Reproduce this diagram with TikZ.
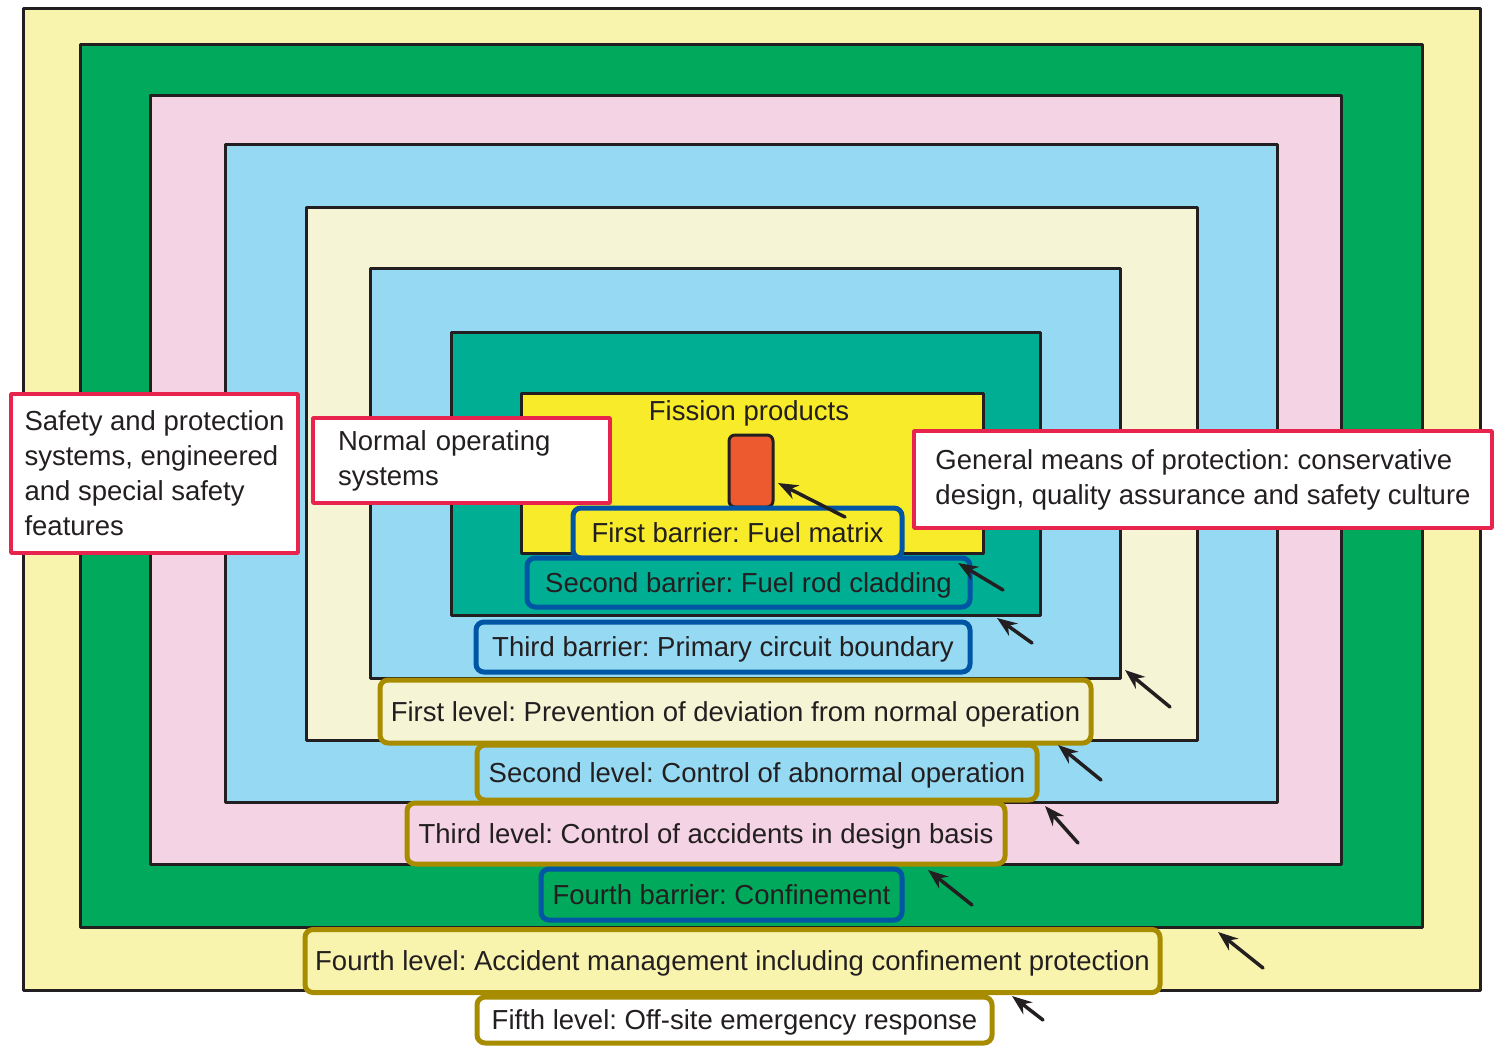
\documentclass[tikz,border=0pt]{standalone}
\usepackage{fontspec}
\setmainfont{Liberation Sans}
\usetikzlibrary{arrows.meta}
\definecolor{cInk}{HTML}{231F20}
\definecolor{cPale}{HTML}{F8F3AD}
\definecolor{cGreen}{HTML}{00A95C}
\definecolor{cPink}{HTML}{F3D3E4}
\definecolor{cSky}{HTML}{95D9F2}
\definecolor{cCream}{HTML}{F5F5D6}
\definecolor{cTeal}{HTML}{00AE93}
\definecolor{cYellow}{HTML}{F8EB2A}
\definecolor{cOrange}{HTML}{EE5A30}
\definecolor{cRed}{HTML}{E8234E}
\definecolor{cBlue}{HTML}{0055A4}
\definecolor{cGold}{HTML}{A88C00}
\frenchspacing
\begin{document}
\begin{tikzpicture}[x=1pt, y=-1pt, line join=round, line cap=round, >={Stealth[length=20pt, width=15pt]},
	font=\fontsize{27.5pt}{35pt}\selectfont, text=cInk,
	barrier/.style={draw=cBlue, line width=5pt, rounded corners=8pt, inner sep=0pt, text height=20pt, text depth=1pt},
	level/.style={draw=cGold, line width=5pt, rounded corners=8pt, inner sep=0pt, text height=20pt, text depth=1pt},
	note/.style={draw=cRed, line width=3.5pt, fill=white, align=left, inner xsep=2pt}]
	\useasboundingbox (0,0) rectangle (1501,1045);
	% vùng lồng nhau, từ ngoài vào trong
	\foreach \xa/\ya/\xb/\yb/\mau in {23/8/1480/990/cPale, 80/44/1422/927/cGreen, 150/95/1341/864/cPink,
		225/144/1277/802/cSky, 306/207/1197/740/cCream, 370/268/1120/678/cSky, 451/332/1040/615/cTeal, 521/393/983/553/cYellow}
		\draw[line width=3pt, draw=cInk, fill=\mau] (\xa,\ya) rectangle (\xb,\yb);
	\node (fission) at (749,413) {Fission products};
	\node[draw=cInk, fill=cOrange, line width=3pt, rounded corners=6pt, minimum width=44pt, minimum height=72pt] (pellet) at (751,471) {};
	% hộp ghi chú
	\node[note, minimum width=287pt, minimum height=159pt] (safety) at (154.5,473.5) {Safety and protection\\systems, engineered\\and special safety\\features};
	\node[note, minimum width=297pt, minimum height=85pt, text width=247pt] (normal) at (461.5,460.5) {Normal operating\\systems};
	\node[note, minimum width=578pt, minimum height=97pt] (general) at (1203,479.5) {General means of protection: conservative\\design, quality assurance and safety culture};
	% hàng rào và cấp bảo vệ
	\node[barrier, fill=cYellow, minimum width=329pt, minimum height=50pt] (bar1) at (737.5,533) {First barrier: Fuel matrix};
	\node[barrier, fill=cTeal, minimum width=443pt, minimum height=49pt] (bar2) at (748.5,582.5) {Second barrier: Fuel rod cladding};
	\node[barrier, fill=cSky, minimum width=494pt, minimum height=50pt] (bar3) at (723,647) {Third barrier: Primary circuit boundary};
	\node[level, fill=cCream, minimum width=711pt, minimum height=63pt] (lev1) at (735.5,711.5) {First level: Prevention of deviation from normal operation};
	\node[level, fill=cSky, minimum width=560pt, minimum height=55pt] (lev2) at (757,772.5) {Second level: Control of abnormal operation};
	\node[level, fill=cPink, minimum width=598pt, minimum height=61pt] (lev3) at (706,833.5) {Third level: Control of accidents in design basis};
	\node[barrier, fill=cGreen, minimum width=361pt, minimum height=51pt] (bar4) at (721.5,894.5) {Fourth barrier: Confinement};
	\node[level, fill=cPale, minimum width=855pt, minimum height=63pt] (lev4) at (732.5,961) {Fourth level: Accident management including confinement protection};
	\node[level, fill=white, minimum width=515pt, minimum height=46pt] (lev5) at (734.5,1020) {Fifth level: Off-site emergency response};
	% mũi tên
	\foreach \i/\xa/\ya/\xb/\yb in {1/845/517/778/483, 2/1003/590/958/563, 3/1032/643/997/618, 4/1170/707/1125/670,
		5/1101/780/1058/745, 6/1078/843/1045/806, 7/972/905/928/870, 8/1263/968/1218/932, 9/1043/1020/1012/996}
	{
		\coordinate (tail\i) at (\xa,\ya);
		\coordinate (tip\i) at (\xb,\yb);
		\draw[->, line width=3.5pt, draw=cInk] (tail\i)--(tip\i);
	}
\end{tikzpicture}
\end{document}
